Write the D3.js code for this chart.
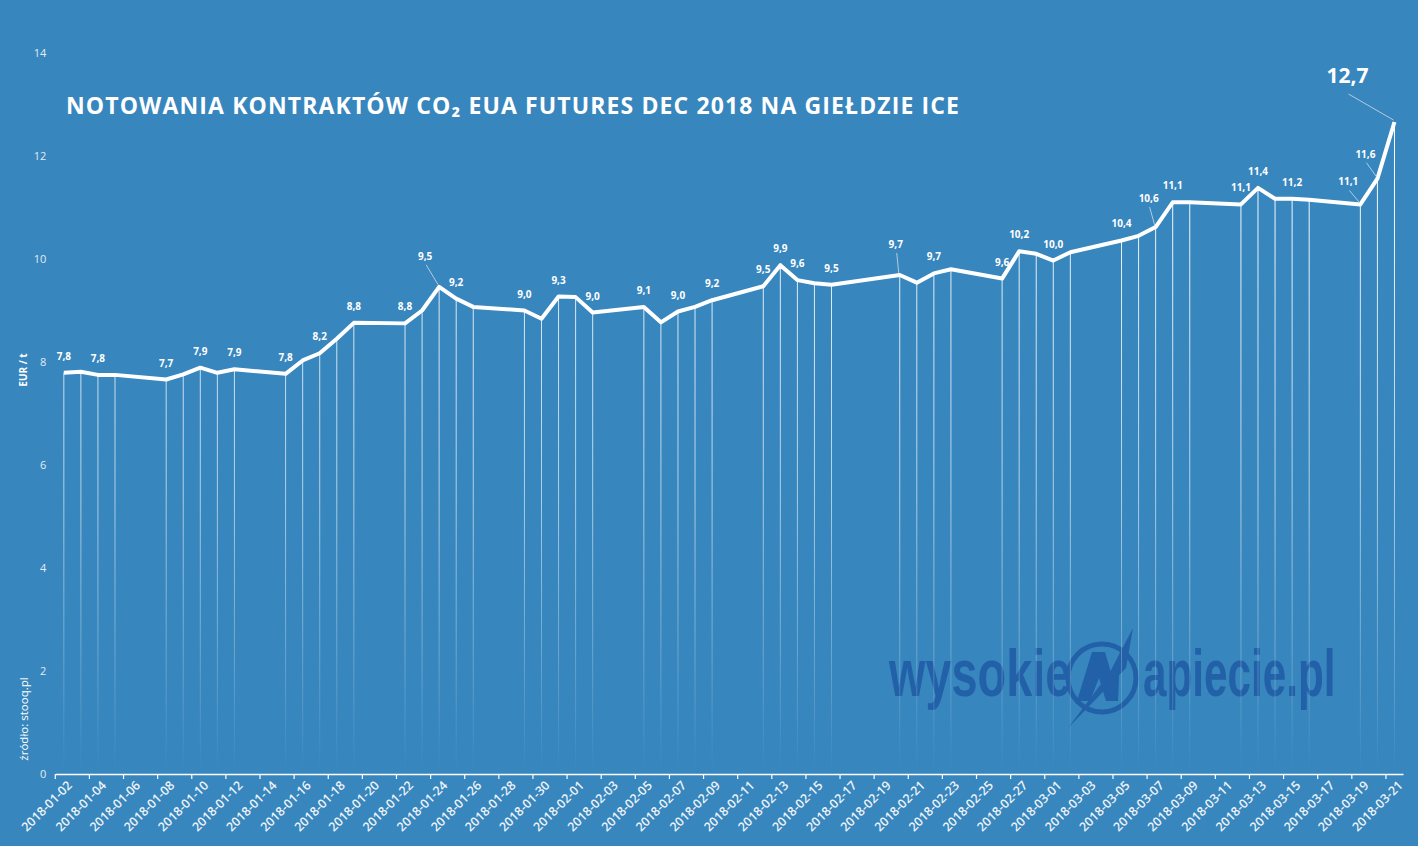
<!DOCTYPE html>
<html>
<head>
<meta charset="utf-8">
<script src="https://cdn.jsdelivr.net/npm/d3@7"></script>
<style>
  body { margin: 0; background: #3786be; }
  svg { display: block; font-family: "Open Sans", sans-serif; }
</style>
</head>
<body>
<div id="chart"></div>
<script>
// data (EUA Dec-18, EUR/t)
var dates = [
  "2018-01-02","2018-01-03","2018-01-04","2018-01-05","2018-01-08","2018-01-09","2018-01-10","2018-01-11","2018-01-12",
  "2018-01-15","2018-01-16","2018-01-17","2018-01-18","2018-01-19","2018-01-22","2018-01-23","2018-01-24","2018-01-25","2018-01-26",
  "2018-01-29","2018-01-30","2018-01-31","2018-02-01","2018-02-02","2018-02-05","2018-02-06","2018-02-07","2018-02-08","2018-02-09",
  "2018-02-12","2018-02-13","2018-02-14","2018-02-15","2018-02-16","2018-02-20","2018-02-21","2018-02-22","2018-02-23",
  "2018-02-26","2018-02-27","2018-02-28","2018-03-01","2018-03-02","2018-03-05","2018-03-06","2018-03-07","2018-03-08","2018-03-09",
  "2018-03-12","2018-03-13","2018-03-14","2018-03-15","2018-03-16","2018-03-19","2018-03-20","2018-03-21"
];
var prices = [
  7.79, 7.81, 7.75, 7.75, 7.66, 7.76, 7.89, 7.79, 7.86,
  7.77, 8.03, 8.17, 8.45, 8.76, 8.75, 9.00, 9.46, 9.23, 9.07,
  9.00, 8.84, 9.27, 9.26, 8.96, 9.07, 8.77, 8.98, 9.07, 9.20,
  9.47, 9.88, 9.59, 9.53, 9.50, 9.69, 9.54, 9.72, 9.80,
  9.62, 10.15, 10.10, 9.97, 10.13, 10.36, 10.45, 10.62, 11.10, 11.10,
  11.06, 11.38, 11.17, 11.17, 11.15, 11.06, 11.56, 12.66
];
// points that carry a value label
var labelDates = [
  "2018-01-02","2018-01-04","2018-01-08","2018-01-10","2018-01-12","2018-01-15","2018-01-17","2018-01-19",
  "2018-01-22","2018-01-24","2018-01-25","2018-01-29","2018-01-31","2018-02-02","2018-02-05","2018-02-07",
  "2018-02-09","2018-02-12","2018-02-13","2018-02-14","2018-02-16","2018-02-20","2018-02-22","2018-02-26",
  "2018-02-27","2018-03-01","2018-03-05","2018-03-07","2018-03-08","2018-03-12","2018-03-13","2018-03-15",
  "2018-03-19","2018-03-20","2018-03-21"
];
var yTicks = [0, 2, 4, 6, 8, 10, 12, 14];
var firstDay = "2018-01-02", lastDay = "2018-03-21";

var W = 1418, H = 846;
var margin = {left: 55.3, right: 15, top: 53, bottom: 72};

var parse = d3.timeParse("%Y-%m-%d");
var fmtDay = d3.timeFormat("%Y-%m-%d");
var allDays = d3.timeDay.range(parse(firstDay), d3.timeDay.offset(parse(lastDay), 1)).map(fmtDay);

var data = dates.map(function(d, i) { return {date: d, value: prices[i]}; });

var svg = d3.select("#chart").append("svg")
  .attr("width", W).attr("height", H);

svg.append("rect").attr("width", W).attr("height", H).attr("fill", "#3786be");

var x = d3.scaleBand().domain(allDays).range([margin.left, W - margin.right]).padding(0);
var bw = x.bandwidth();
var cx = function(d) { return x(d) + bw / 2; };
var y = d3.scaleLinear().domain([0, 14]).range([H - margin.bottom, margin.top]);

// watermark (condensed look done with a horizontal squeeze)
var wm = svg.append("g").attr("fill", "#2261a8");
wm.append("text").attr("transform", "translate(889,696) scale(0.71,1)")
  .attr("font-family", "'Liberation Sans Narrow', 'Liberation Sans', sans-serif")
  .attr("font-weight", "bold").attr("font-size", 66)
  .text("wysokie");
wm.append("text").attr("transform", "translate(1143,696) scale(0.64,1)")
  .attr("font-family", "'Liberation Sans Narrow', 'Liberation Sans', sans-serif")
  .attr("font-weight", "bold").attr("font-size", 66)
  .text("apiecie.pl");
wm.append("circle").attr("cx", 1102).attr("cy", 678).attr("r", 34)
  .attr("fill", "none").attr("stroke", "#2261a8").attr("stroke-width", 5);
wm.append("path").attr("d", "M1077,701 L1092,652 L1105,652 L1112,676 L1120,652 L1118,701 L1106,701 L1099,678 L1090,701 Z");
wm.append("path").attr("d", "M1133,628 L1126,668 L1068,728 L1110,672 Z");

// fading drop lines
var grad = svg.append("defs").append("linearGradient")
  .attr("id", "drop").attr("gradientUnits", "userSpaceOnUse")
  .attr("x1", 0).attr("x2", 0).attr("y1", y(12)).attr("y2", y(0));
grad.append("stop").attr("offset", "0").attr("stop-color", "#fff").attr("stop-opacity", 1);
grad.append("stop").attr("offset", "0.55").attr("stop-color", "#fff").attr("stop-opacity", 0.6);
grad.append("stop").attr("offset", "1").attr("stop-color", "#fff").attr("stop-opacity", 0);

svg.append("g").selectAll("line").data(data).enter().append("line")
  .attr("x1", d => cx(d.date)).attr("x2", d => cx(d.date) + 0.01)
  .attr("y1", d => y(d.value)).attr("y2", y(0))
  .attr("stroke", "url(#drop)").attr("stroke-width", 1);

// y axis
var yAxis = svg.append("g").attr("transform", "translate(" + margin.left + ",0)")
  .call(d3.axisLeft(y).tickValues(yTicks).tickSize(0).tickPadding(9));
yAxis.select(".domain").remove();
yAxis.selectAll("text").attr("fill", "#e4ebf3").attr("font-size", 11)
  .attr("font-family", "'Open Sans', sans-serif");

// x axis
var xAxis = svg.append("g").attr("transform", "translate(0," + y(0) + ")")
  .call(d3.axisBottom(x).tickValues(allDays.filter((d, i) => i % 2 === 0)).tickSize(5).tickSizeOuter(0));
xAxis.select(".domain").attr("stroke", "#fff").attr("stroke-width", 1.5);
xAxis.selectAll(".tick line").attr("stroke", "#fff").attr("stroke-width", 1.2)
  .attr("x1", -bw / 2).attr("x2", -bw / 2);
xAxis.selectAll(".tick text")
  .attr("fill", "#eef3f8").attr("font-size", 12.5).attr("font-weight", 600)
  .attr("font-family", "'Open Sans', sans-serif")
  .attr("text-anchor", "end")
  .attr("transform", "translate(6,9) rotate(-45)")
  .attr("x", 0).attr("y", 0).attr("dy", "0.35em");

// price line
var line = d3.line().x(d => cx(d.date)).y(d => y(d.value));
svg.append("path").datum(data).attr("d", line)
  .attr("fill", "none").attr("stroke", "#fff").attr("stroke-width", 4)
  .attr("stroke-linejoin", "round");

// value labels (some pulled up-left with a leader line)
var leader = {
  "2018-01-24": [-14, -27],
  "2018-02-20": [-4, -27],
  "2018-03-07": [-7, -25],
  "2018-03-19": [-12, -19],
  "2018-03-20": [-12, -21],
  "2018-03-21": [-47, -39]
};
var comma = v => d3.format(".1f")(v).replace(".", ",");
var lab = svg.append("g");
data.filter(d => labelDates.indexOf(d.date) >= 0).forEach(function(d) {
  var px = cx(d.date), py = y(d.value);
  var off = leader[d.date] || [0, -13];
  var big = d.date === lastDay;
  if (leader[d.date]) {
    lab.append("line")
      .attr("x1", px + off[0] + 1).attr("y1", py + off[1] + (big ? 11 : 5))
      .attr("x2", px - 1).attr("y2", py - 2)
      .attr("stroke", "#b4cbe2").attr("stroke-width", 1);
  }
  lab.append("text")
    .attr("x", px + off[0]).attr("y", py + off[1])
    .attr("text-anchor", "middle")
    .attr("fill", "#fff").attr("font-weight", "bold")
    .attr("font-size", big ? 21 : 10)
    .text(comma(d.value));
});

// title and side notes
svg.append("text").attr("x", 66).attr("y", 114)
  .attr("fill", "#fff").attr("font-weight", "bold").attr("font-size", 23)
  .attr("textLength", 893).attr("lengthAdjust", "spacing")
  .text("NOTOWANIA KONTRAKTÓW CO₂ EUA FUTURES DEC 2018 NA GIEŁDZIE ICE");

svg.append("text").attr("transform", "translate(27,370) rotate(-90)")
  .attr("text-anchor", "middle").attr("fill", "#fff")
  .attr("font-weight", "bold").attr("font-size", 10)
  .text("EUR / t");

svg.append("text").attr("transform", "translate(28,719) rotate(-90)")
  .attr("text-anchor", "middle").attr("fill", "#fff")
  .attr("font-size", 11.5)
  .text("źródło: stooq.pl");
</script>
</body>
</html>
